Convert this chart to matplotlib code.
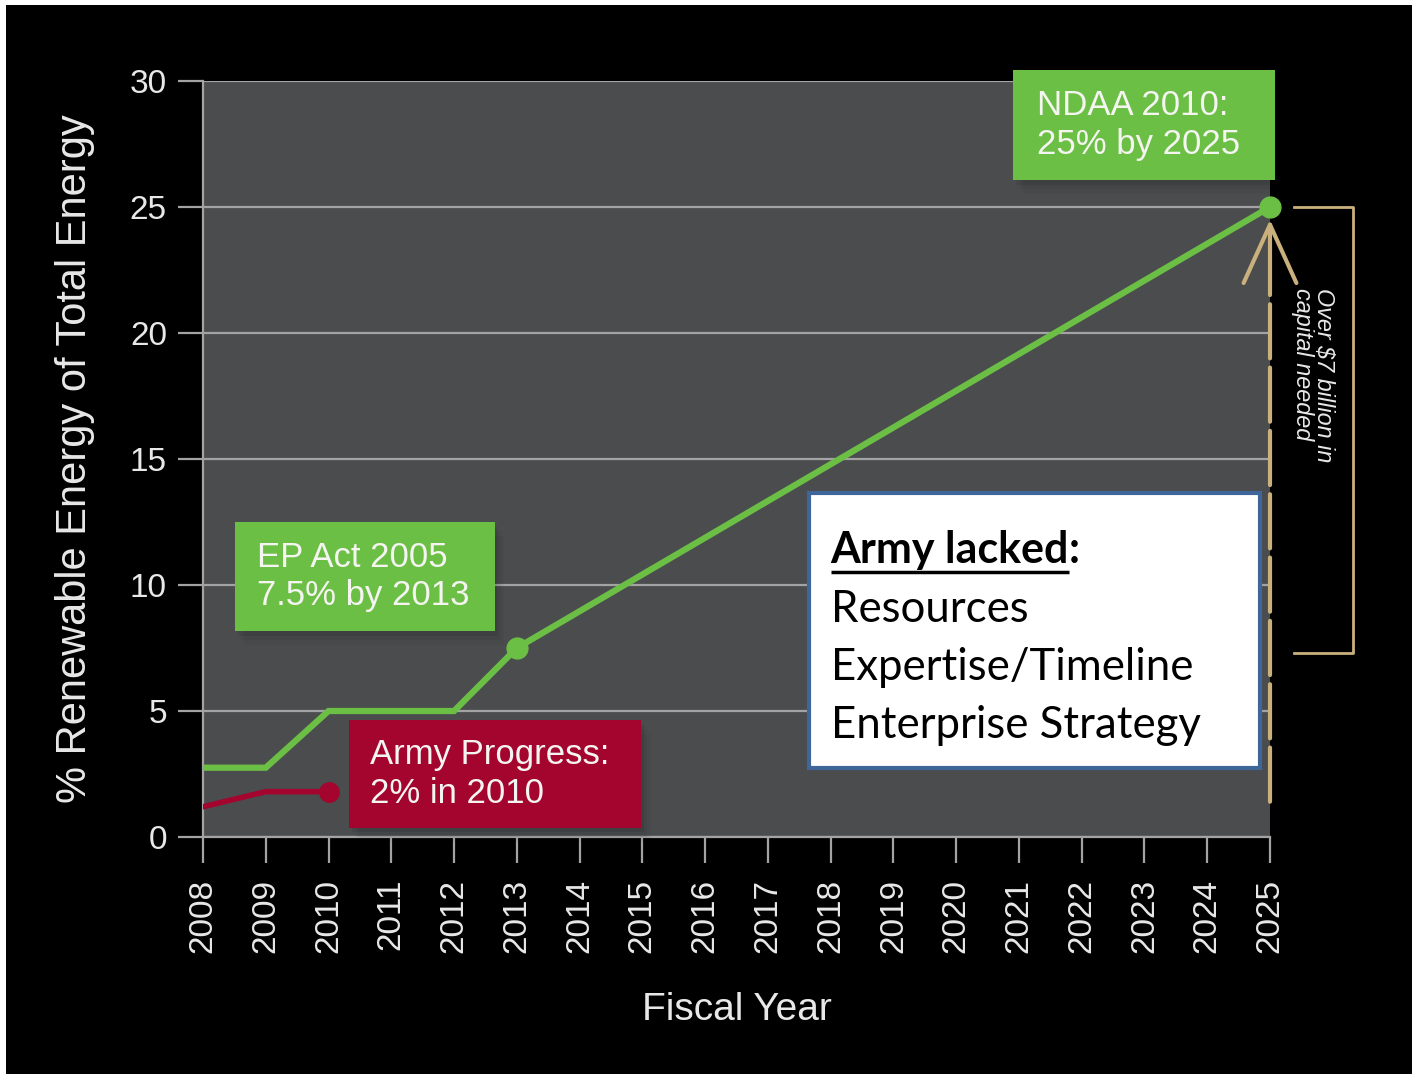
import matplotlib
matplotlib.use("Agg")
import matplotlib.pyplot as plt
from matplotlib.patches import Rectangle

# values
goal_years = [2008, 2009, 2010, 2011, 2012, 2013, 2025]
goal_pct = [2.75, 2.75, 5, 5, 5, 7.5, 25]
goal_mark_years = [2013, 2025]
goal_mark_pct = [7.5, 25]
army_years = [2008, 2009, 2010]
army_pct = [1.2, 1.8, 1.8]
year_ticks = list(range(2008, 2026))
pct_ticks = [0, 5, 10, 15, 20, 25, 30]

ndaa_text = "NDAA 2010:\n25% by 2025"
epact_text = "EP Act 2005\n7.5% by 2013"
army_text = "Army Progress:\n2% in 2010"
capital_text = "Over \\$7 billion in\ncapital needed"
lacked_title = "Army lacked"
lacked_items = ["Resources", "Expertise/Timeline", "Enterprise Strategy"]

plot_bg = "#4b4c4e"
grid_c = "#a3a3a3"
green = "#6cbf45"
red = "#a3052e"
tan = "#c9b07c"
txt = "#e8e8e8"
sans = "Liberation Sans"

fig = plt.figure(figsize=(14.12, 10.74), dpi=100, facecolor="black")
# thin white frame on top and left like the screenshot
fig.patches.append(Rectangle((0, 1 - 5 / 1074), 1, 5 / 1074, transform=fig.transFigure,
                             facecolor="white", edgecolor="none"))
fig.patches.append(Rectangle((0, 0), 6 / 1412, 1, transform=fig.transFigure,
                             facecolor="white", edgecolor="none"))

ax = fig.add_axes([203 / 1412, 1 - 837 / 1074, 1067 / 1412, 756 / 1074])
ax.set_facecolor(plot_bg)
ax.set_xlim(2008, 2025)
ax.set_ylim(0, 30)
ax.set_xticks(year_ticks)
ax.set_yticks(pct_ticks)
ax.yaxis.grid(True, color=grid_c, lw=1.6)
ax.set_axisbelow(True)
for s in ["top", "right"]:
    ax.spines[s].set_visible(False)
for s in ["left", "bottom"]:
    ax.spines[s].set_color(grid_c)
    ax.spines[s].set_linewidth(1.6)
ax.tick_params(axis="y", length=18, width=1.6, color=grid_c, pad=8,
               labelsize=24, labelcolor=txt)
ax.tick_params(axis="x", length=19, width=1.6, color=grid_c, pad=11,
               labelsize=24, labelcolor=txt, labelrotation=90)
for lab in ax.get_xticklabels() + ax.get_yticklabels():
    lab.set_fontfamily(sans)

ax.set_ylabel("% Renewable Energy of Total Energy", fontsize=30, color=txt,
              fontfamily=sans, va="center")
ax.yaxis.set_label_coords(-0.12, 0.5)
ax.set_xlabel("Fiscal Year", fontsize=28, color=txt, fontfamily=sans, va="center")
ax.xaxis.set_label_coords(0.5, -0.229)

# goal line and army progress
ax.plot(goal_years, goal_pct, color=green, lw=4.5, zorder=3, solid_joinstyle="miter")
ax.plot(goal_mark_years, goal_mark_pct, "o", ms=15, color=green, zorder=4, clip_on=False)
ax.plot(army_years, army_pct, color=red, lw=4, zorder=3)
ax.plot(army_years[-1:], army_pct[-1:], "o", ms=14, color=red, zorder=4)


def label_box(x0, y0, x1, y1, color, text, tx):
    # soft drop shadow
    for k, a in [(1, 0.07), (2, 0.05), (3, 0.04)]:
        ax.add_patch(Rectangle((x0 + 0.05 * k, y0 - 0.18 * k), x1 - x0, y1 - y0,
                               facecolor="black", alpha=a, edgecolor="none",
                               zorder=4, clip_on=False))
    ax.add_patch(Rectangle((x0, y0), x1 - x0, y1 - y0, facecolor=color,
                           edgecolor="none", zorder=5, clip_on=False))
    ax.text(tx, (y0 + y1) / 2, text, fontsize=25, color="#f4f4f0", fontfamily=sans,
            ha="left", va="center", linespacing=1.2, zorder=6, clip_on=False)


label_box(2020.91, 26.07, 2025.08, 30.44, green, ndaa_text, 2021.28)
label_box(2008.51, 8.17, 2012.65, 12.5, green, epact_text, 2008.86)
label_box(2010.33, 0.36, 2014.98, 4.64, red, army_text, 2010.66)

# dashed arrow up to the 2025 goal
ax.annotate("", xy=(2025, 23.6), xytext=(2025, 1.4),
            arrowprops=dict(arrowstyle="-", color=tan, lw=3, linestyle=(0, (13, 2.2)),
                            shrinkA=0, shrinkB=0), annotation_clip=False, zorder=2)
ax.annotate("", xy=(2025, goal_pct[-1] - 0.5), xytext=(2025, 23.6),
            arrowprops=dict(arrowstyle="->, head_length=4.2, head_width=1.9", color=tan,
                            lw=3, shrinkA=0, shrinkB=0), annotation_clip=False, zorder=2)

# bracket spanning the 2013 target to the 2025 target
bx0, bx1 = 2025.38, 2026.32
ax.plot([bx0, bx1, bx1, bx0], [goal_pct[-1], goal_pct[-1], goal_mark_pct[0] - 0.2,
                              goal_mark_pct[0] - 0.2],
        color=tan, lw=2, clip_on=False)
ax.text(2025.68, 21.8, capital_text, rotation=270, ha="center", va="top",
        multialignment="left", style="italic", fontsize=16.8, color=txt,
        fontfamily=sans, linespacing=0.9, clip_on=False)

# white note box
ax.add_patch(Rectangle((2017.66, 2.74), 7.18, 10.91, facecolor="white",
                       edgecolor="#3f6699", lw=3, zorder=7, clip_on=False))
box_font = "Lato"
t = ax.text(2018.0, 10.87, lacked_title, fontsize=31, fontweight="bold",
            fontfamily=box_font, color="black", va="baseline", zorder=8)
fig.canvas.draw()
bb = t.get_window_extent().transformed(ax.transData.inverted())
ax.text(bb.x1, 10.87, ":", fontsize=31, fontweight="bold", fontfamily=box_font,
        color="black", va="baseline", zorder=8)
ax.plot([bb.x0, bb.x1], [10.5, 10.5], color="black", lw=2.5, zorder=8,
        solid_capstyle="butt")
for i, item in enumerate(lacked_items):
    ax.text(2018.0, 8.53 - i * 2.3, item, fontsize=31.5, fontfamily=box_font,
            color="black", va="baseline", zorder=8)

fig.savefig("out.png", dpi=100, facecolor="black")
